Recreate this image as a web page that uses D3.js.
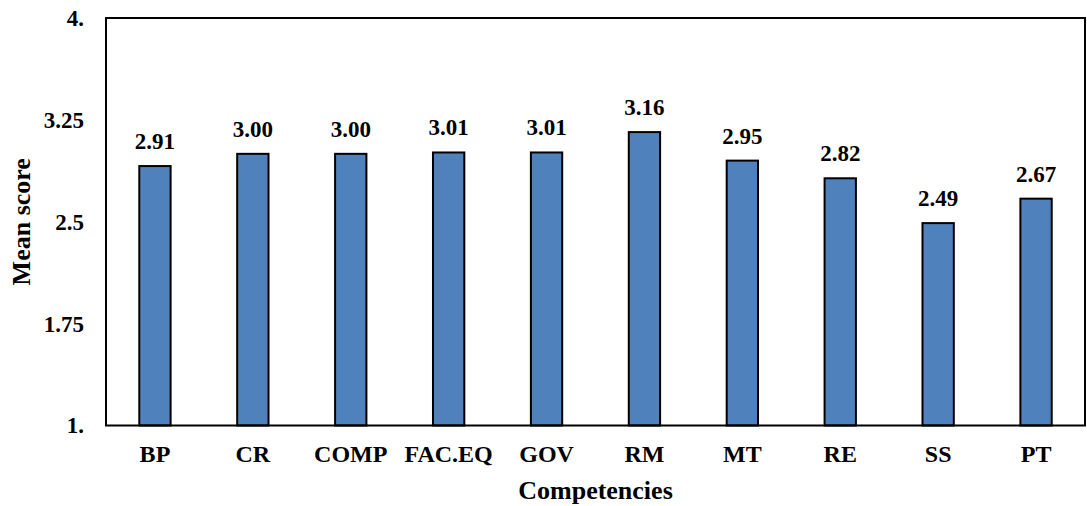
<!DOCTYPE html>
<html>
<head>
<meta charset="utf-8">
<script src="https://cdn.jsdelivr.net/npm/d3@7"></script>
<style>
  html, body { margin: 0; padding: 0; background: #fff; }
  svg { display: block; }
  text { font-family: "Liberation Serif", "Times New Roman", serif; font-weight: bold; fill: #000; }
</style>
</head>
<body>
<svg id="chart" width="1087" height="506"></svg>
<script>
// Mean score per competency
const categories = ["BP", "CR", "COMP", "FAC.EQ", "GOV", "RM", "MT", "RE", "SS", "PT"];
const meanScores = [2.91, 3.00, 3.00, 3.01, 3.01, 3.16, 2.95, 2.82, 2.49, 2.67];
const yTicks = [1, 1.75, 2.5, 3.25, 4];
const yTickLabels = ["1.", "1.75", "2.5", "3.25", "4."];

const svg = d3.select("#chart");
const plotLeft = 106, plotRight = 1085, plotTop = 18, plotBottom = 425.5;

const x = d3.scaleBand()
  .domain(categories)
  .range([plotLeft, plotRight])
  .paddingInner(0.68)
  .paddingOuter(0.34);

const y = d3.scaleLinear().domain([1, 4]).range([plotBottom, plotTop]);

// bars
svg.append("g").selectAll("rect")
  .data(categories)
  .join("rect")
  .attr("x", d => x(d))
  .attr("y", (d, i) => y(meanScores[i]))
  .attr("width", x.bandwidth())
  .attr("height", (d, i) => y(1) - y(meanScores[i]))
  .attr("fill", "#4F81BD")
  .attr("stroke", "#000")
  .attr("stroke-width", 2);

// value labels above bars
svg.append("g").selectAll("text")
  .data(categories)
  .join("text")
  .attr("x", d => x(d) + x.bandwidth() / 2)
  .attr("y", (d, i) => y(meanScores[i]) - 17)
  .attr("text-anchor", "middle")
  .attr("font-size", 23)
  .text((d, i) => meanScores[i].toFixed(2));

// plot frame
svg.append("rect")
  .attr("x", plotLeft).attr("y", plotTop)
  .attr("width", plotRight - plotLeft).attr("height", plotBottom - plotTop)
  .attr("fill", "none")
  .attr("stroke", "#000")
  .attr("stroke-width", 2);

// y axis labels
const yAxis = d3.axisLeft(y)
  .tickValues(yTicks)
  .tickFormat((d, i) => yTickLabels[i])
  .tickSize(0)
  .tickPadding(22);
const gy = svg.append("g").attr("transform", `translate(${plotLeft},0)`).call(yAxis);
gy.select(".domain").remove();
gy.selectAll("text")
  .attr("font-size", 23)
  .attr("font-family", null)
  .attr("fill", "#000");

// x axis labels
const xAxis = d3.axisBottom(x).tickSize(0).tickPadding(19);
const gx = svg.append("g").attr("transform", `translate(0,${plotBottom})`).call(xAxis);
gx.select(".domain").remove();
gx.selectAll("text")
  .attr("font-size", 24)
  .attr("font-family", null)
  .attr("fill", "#000");

// axis titles
svg.append("text")
  .attr("x", (plotLeft + plotRight) / 2)
  .attr("y", 499)
  .attr("text-anchor", "middle")
  .attr("font-size", 26)
  .text("Competencies");

svg.append("text")
  .attr("transform", `translate(30,${(plotTop + plotBottom) / 2}) rotate(-90)`)
  .attr("text-anchor", "middle")
  .attr("font-size", 26)
  .text("Mean score");
</script>
</body>
</html>
